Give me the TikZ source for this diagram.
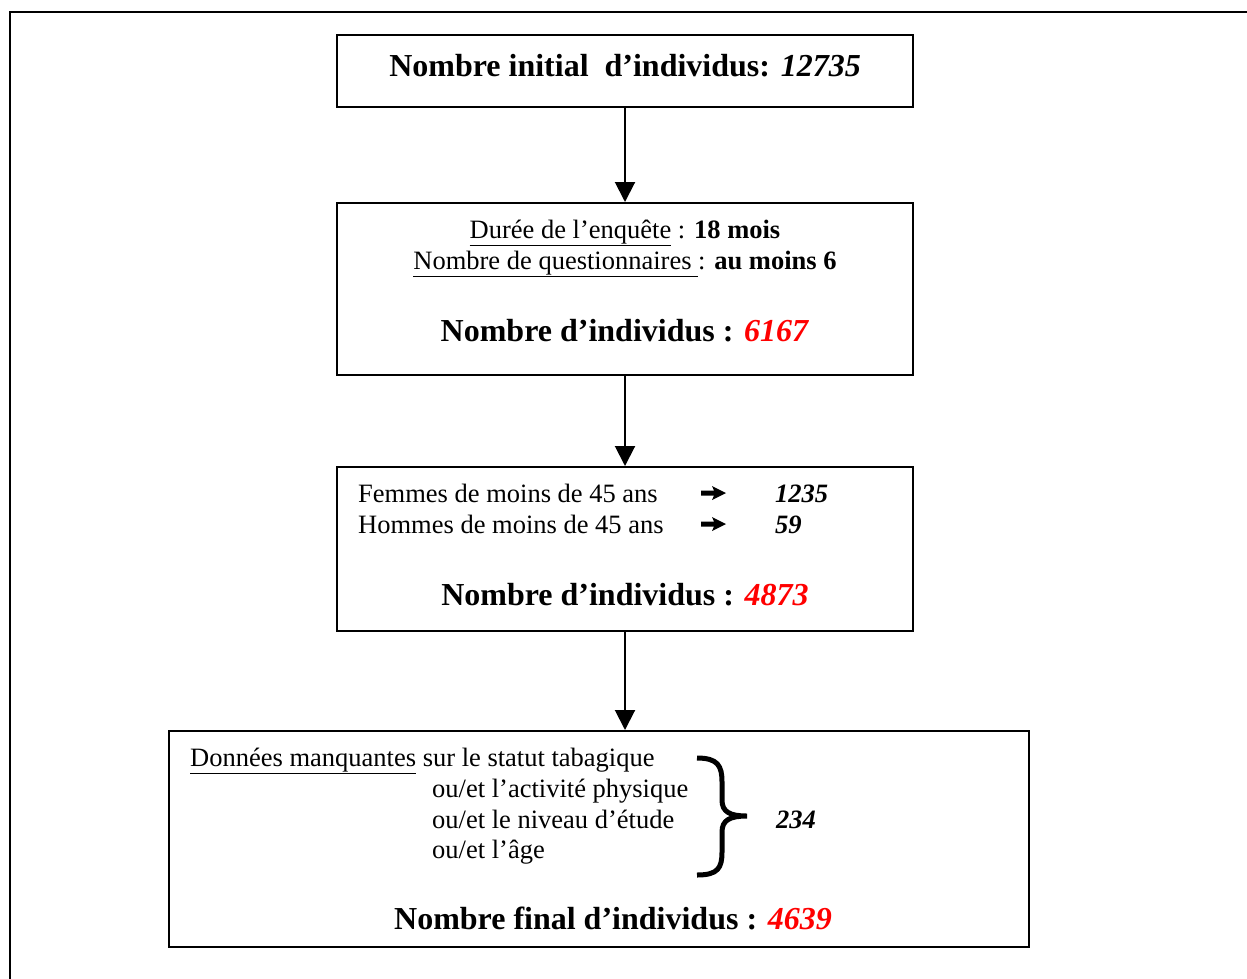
\documentclass[tikz,border=0pt]{standalone}
\usepackage{fontspec}
\setmainfont{Liberation Serif}
\usepackage{xcolor}
\usetikzlibrary{arrows.meta}

\definecolor{countred}{RGB}{255,0,0}
\newcommand{\smalltext}{\fontsize{26.5}{30}\selectfont}
\newcommand{\bigtext}{\fontsize{32}{36}\selectfont\bfseries}

\tikzset{
    stagebox/.style={draw, line width=2pt, inner sep=0pt},
    flowarrow/.style={line width=2pt, -{Triangle[width=20pt,length=20pt]}},
    linetext/.style={inner sep=0pt, anchor=base west},
    midtext/.style={inner sep=0pt, anchor=base},
    bolddart/.pic={\fill (0,-2.5) -- (13,-2.5) -- (11,-7) -- (25,0) -- (11,7) -- (13,2.5) -- (0,2.5) -- cycle;},
}

\begin{document}
\begin{tikzpicture}[x=1pt, y=-1pt]
    \useasboundingbox (0,0) rectangle (1247,978);
    \draw[line width=2.5pt] (1250,12) -- (10,12) -- (10,981);

    % boxes
    \node[stagebox, minimum width=576pt, minimum height=72pt] (initial) at (625,71) {};
    \node[stagebox, minimum width=576pt, minimum height=172pt] (survey) at (625,289) {};
    \node[stagebox, minimum width=576pt, minimum height=164pt] (agefilter) at (625,549) {};
    \node[stagebox, minimum width=860pt, minimum height=216pt] (missing) at (599,839) {};

    \draw[flowarrow] (initial.south) -- (survey.north);
    \draw[flowarrow] (survey.south) -- (agefilter.north);
    \draw[flowarrow] (agefilter.south) -- (agefilter.south |- missing.north);

    % box 1
    \node[midtext] (initialcount) at (625,76) {\bigtext Nombre initial \ d’individus: \textit{12735}};

    % box 2
    \node[midtext] (duree) at (625,238) {\smalltext\underline{Durée de l’enquête} : \textbf{18 mois}};
    \node[midtext] (questions) at (625,269) {\smalltext\underline{Nombre de questionnaires }: \textbf{au moins 6}};
    \node[midtext] (surveycount) at (625,341) {\bigtext Nombre d’individus : \textcolor{countred}{\textit{6167}}};

    % box 3
    \node[linetext] (femmes) at (358,502) {\smalltext Femmes de moins de 45 ans};
    \node[linetext] (hommes) at (358,533) {\smalltext Hommes de moins de 45 ans};
    \pic at (701,493) {bolddart};
    \pic at (701,524) {bolddart};
    \node[linetext] (femcount) at (775,502) {\smalltext\textbf{\textit{1235}}};
    \node[linetext] (homcount) at (775,533) {\smalltext\textbf{\textit{59}}};
    \node[midtext] (agecount) at (625,605) {\bigtext Nombre d’individus : \textcolor{countred}{\textit{4873}}};

    % box 4
    \node[linetext] (donnees) at (190,766) {\smalltext\underline{Données manquantes} sur le statut tabagique};
    \node[linetext] (activite) at (432,797) {\smalltext ou/et l’activité physique};
    \node[linetext] (niveau) at (432,828) {\smalltext ou/et le niveau d’étude};
    \node[linetext] (age) at (432,858) {\smalltext ou/et l’âge};
    \draw[line width=5pt] (697,758) .. controls (718,758) and (722,766) .. (722,782)
        -- (722,800) .. controls (722,812) and (730,816) .. (747,816)
        .. controls (730,816) and (722,820) .. (722,832)
        -- (722,852) .. controls (722,868) and (718,875) .. (697,875);
    \node[linetext] (misscount) at (776,828) {\smalltext\textbf{\textit{234}}};
    \node[midtext] (finalcount) at (613,929) {\bigtext Nombre final d’individus : \textcolor{countred}{\textit{4639}}};
\end{tikzpicture}
\end{document}
